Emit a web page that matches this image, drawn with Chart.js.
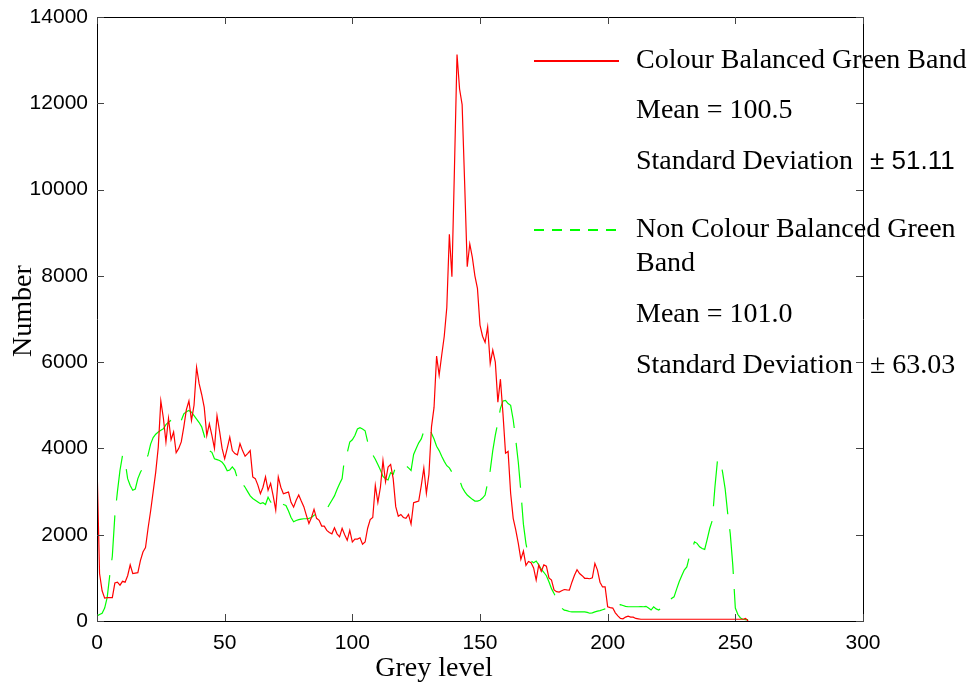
<!DOCTYPE html>
<html>
<head>
<meta charset="utf-8">
<script src="https://cdn.jsdelivr.net/npm/chart.js@4.4.1/dist/chart.umd.min.js"></script>
<style>
  html, body { margin: 0; padding: 0; background: #fff; }
</style>
</head>
<body>
<canvas id="hist-chart" width="979" height="685"></canvas>
<script>
// histogram counts per grey level (0..255)
let balancedCounts = [
  3650, 1100, 700, 530, 540, 540, 540, 880, 900, 830,
  920, 900, 1050, 1300, 1100, 1110, 1120, 1400, 1600, 1700,
  2150, 2550, 3000, 3450, 4030, 5100, 4700, 4150, 4700, 4200,
  4380, 3900, 4000, 4150, 4500, 4900, 5100, 4650, 5000, 5880,
  5500, 5250, 4950, 4300, 4570, 4300, 4000, 4760, 4400, 4000,
  3760, 4000, 4260, 3950, 3880, 3850, 4110, 3950, 3820, 3880,
  3950, 3340, 3300, 3150, 2950, 3100, 3340, 3030, 3190, 2900,
  2570, 3340, 3100, 2950, 2970, 2990, 2750, 2640, 2800, 2920,
  2780, 2650, 2450, 2260, 2400, 2590, 2380, 2335, 2200, 2200,
  2100, 2050, 2020, 2160, 2020, 1950, 2150, 2000, 1870, 2100,
  1830, 1900, 1900, 1930, 1780, 1830, 2150, 2350, 2400, 3140,
  2750, 3100, 3720, 3230, 3570, 3630, 3300, 2650, 2430, 2470,
  2400, 2380, 2470, 2245, 2740, 2760, 2780, 3140, 3545, 2960,
  3400, 4500, 4950, 6140, 5700, 6160, 6600, 7265, 8965, 7980,
  10500, 13130, 12330, 11970, 10130, 8210, 8740, 8430, 8000, 7710,
  6860, 6600, 6460, 6815, 5965, 6280, 6000, 5070, 5605, 4800,
  3890, 3930, 2960, 2380, 2110, 1800, 1430, 1620, 1290, 1380,
  1350, 1230, 950, 1300, 1150, 1300, 1270, 1000, 950, 720,
  680, 670, 700, 730, 720, 715, 900, 1060, 1190, 1100,
  1050, 990, 990, 980, 1000, 1335, 1180, 900, 790, 790,
  330, 310, 300, 190, 120, 60, 50, 90, 110, 90,
  90, 60, 50, 40, 40, 40, 40, 40, 40, 40,
  40, 40, 40, 40, 40, 40, 40, 40, 40, 40,
  40, 40, 40, 40, 40, 40, 40, 40, 40, 40,
  40, 40, 40, 40, 40, 40, 40, 40, 40, 40,
  40, 40, 40, 40, 60, 0
];

let rawCounts = [
  115, 150, 180, 300, 550, 1060, 1500, 2450, 3000, 3490,
  3840, 3700, 3300, 3140, 3030, 3060, 3300, 3450, 3550, 3700,
  3850, 4100, 4250, 4330, 4380, 4420, 4455, 4550, 4610, 4650,
  4660, 4690, 4760, 4650, 4800, 4850, 4880, 4840, 4760, 4680,
  4600, 4500, 4300, 4000, 3950, 3910, 3760, 3740, 3720, 3680,
  3600, 3480, 3500, 3570, 3500, 3300, 3140, 3180, 3100, 3000,
  2900, 2840, 2800, 2760, 2720, 2740, 2700, 2870, 2760, 2720,
  2680, 2760, 2720, 2700, 2680, 2550, 2400, 2300, 2330, 2350,
  2360, 2370, 2370, 2380, 2400, 2450, 2480, 2500, 2510, 2550,
  2590, 2700, 2800, 2900, 3050, 3180, 3300, 3800, 3900, 4150,
  4200, 4300, 4450, 4480, 4450, 4410, 4150, 3950, 3850, 3750,
  3630, 3500, 3350, 3300, 3270, 3440, 3400, 3580, 3600, 3600,
  3600, 3600, 3550, 3490, 3860, 4000, 4130, 4220, 4400, 4450,
  4505, 4350, 4220, 4050, 3950, 3820, 3700, 3600, 3550, 3450,
  3350, 3300, 3270, 3100, 3000, 2920, 2870, 2820, 2780, 2780,
  2800, 2850, 2920, 3200, 3490, 3950, 4310, 4600, 4930, 5100,
  5115, 5040, 5000, 4665, 4200, 3680, 3000, 2245, 1795, 1500,
  1390, 1350, 1390, 1300, 1200, 1130, 1050, 910, 750, 640,
  500, 370, 300, 250, 240, 220, 210, 210, 210, 210,
  210, 210, 200, 180, 190, 210, 230, 240, 260, 280,
  290, 290, 310, 330, 360, 380, 360, 340, 330, 330,
  330, 330, 330, 335, 330, 340, 300, 255, 330, 280,
  255, 300, 340, 370, 450, 520, 560, 740, 910, 1050,
  1180, 1255, 1490, 1650, 1835, 1800, 1720, 1680, 1660, 1900,
  2150, 2335, 3100, 3720, 3760, 3450, 3070, 2500, 2030, 1300,
  300, 150, 70, 40, 30, 30
];

let greyLevels = balancedCounts.map((v, i) => i);

let xTitle = 'Grey level';
let yTitle = 'Number';
let balancedNotes = ['Colour Balanced Green Band', 'Mean = 100.5', 'Standard Deviation'];
let balancedSd = '\u00B1 51.11';
let rawNotes = ['Non Colour Balanced Green', 'Band', 'Mean = 101.0', 'Standard Deviation'];
let rawSd = '\u00B1 63.03';

const serif = '"Liberation Serif", "Times New Roman", serif';
const sans = '"Liberation Sans", Arial, sans-serif';

// box, inward ticks, axis titles and the text legend
const framePlugin = {
  id: 'frame',
  afterDraw(chart) {
    const c = chart.ctx;
    const a = chart.chartArea;
    const xs = chart.scales.x;
    const ys = chart.scales.y;
    c.save();
    c.strokeStyle = '#000';
    c.lineWidth = 1;
    c.beginPath();
    c.moveTo(a.left + 0.5, a.top + 0.5);
    c.lineTo(a.right + 0.5, a.top + 0.5);
    c.lineTo(a.right + 0.5, a.bottom + 0.5);
    c.lineTo(a.left + 0.5, a.bottom + 0.5);
    c.closePath();
    c.stroke();

    c.strokeStyle = '#444';
    c.beginPath();
    xs.ticks.forEach((t) => {
      const px = Math.round(xs.getPixelForValue(t.value)) + 0.5;
      c.moveTo(px, a.bottom);
      c.lineTo(px, a.bottom - 7);
      c.moveTo(px, a.top);
      c.lineTo(px, a.top + 7);
    });
    ys.ticks.forEach((t) => {
      const py = Math.round(ys.getPixelForValue(t.value)) + 0.5;
      c.moveTo(a.left, py);
      c.lineTo(a.left + 7, py);
      c.moveTo(a.right, py);
      c.lineTo(a.right - 7, py);
    });
    c.stroke();

    c.fillStyle = '#000';
    c.font = '28px ' + serif;
    c.textAlign = 'center';
    c.textBaseline = 'alphabetic';
    c.fillText(xTitle, 434, 676);
    c.save();
    c.translate(31, 311);
    c.rotate(-Math.PI / 2);
    c.fillText(yTitle, 0, 0);
    c.restore();

    // legend
    c.textAlign = 'left';
    c.strokeStyle = '#ff0000';
    c.lineWidth = 2;
    c.beginPath();
    c.moveTo(534, 61);
    c.lineTo(619, 61);
    c.stroke();
    c.strokeStyle = '#00ff00';
    c.setLineDash([10, 8]);
    c.beginPath();
    c.moveTo(534, 230);
    c.lineTo(619, 230);
    c.stroke();
    c.setLineDash([]);

    c.font = '28px ' + serif;
    const redY = [68, 118, 169];
    balancedNotes.forEach((s, i) => c.fillText(s, 636, redY[i]));
    const greenY = [237, 271, 322, 373];
    rawNotes.forEach((s, i) => c.fillText(s, 636, greenY[i]));
    c.fillText(rawSd, 870, 373);
    c.font = '26px ' + sans;
    c.fillText(balancedSd, 870, 169);
    c.restore();
  }
};

let renderChart = () => {
  let canvas = document.getElementById('hist-chart');
  new Chart(canvas, {
    type: 'line',
    data: {
      datasets: [
        {
          label: balancedNotes[0],
          data: greyLevels.map((g, i) => ({ x: g, y: balancedCounts[i] })),
          borderColor: '#ff0000',
          borderWidth: 1.2,
          pointRadius: 0,
          tension: 0,
          fill: false,
        },
        {
          label: rawNotes[0] + ' ' + rawNotes[1],
          data: greyLevels.map((g, i) => ({ x: g, y: rawCounts[i] })),
          borderColor: '#00ff00',
          borderWidth: 1.2,
          borderDash: [45, 15],
          pointRadius: 0,
          tension: 0,
          fill: false,
        },
      ],
    },
    options: {
      responsive: false,
      animation: false,
      devicePixelRatio: 1,
      layout: { padding: { top: 17, right: 116, left: 0, bottom: 0 } },
      plugins: { legend: { display: false }, tooltip: { enabled: false } },
      scales: {
        x: {
          type: 'linear',
          min: 0,
          max: 300,
          ticks: { stepSize: 50, color: '#000', font: { family: sans, size: 21 }, padding: 10, maxRotation: 0 },
          grid: { display: false, drawTicks: false },
          border: { display: false },
          afterFit: (s) => { s.height = 64; s.paddingLeft = 0; s.paddingRight = 0; },
        },
        y: {
          min: 0,
          max: 14000,
          ticks: {
            stepSize: 2000, color: '#000', font: { family: sans, size: 21 }, padding: 9,
            callback: (v) => String(v),
          },
          grid: { display: false, drawTicks: false },
          border: { display: false },
          afterFit: (s) => { s.width = 97; s.paddingTop = 0; s.paddingBottom = 0; },
        },
      },
    },
    plugins: [framePlugin],
  });
};
renderChart();
</script>
</body>
</html>
